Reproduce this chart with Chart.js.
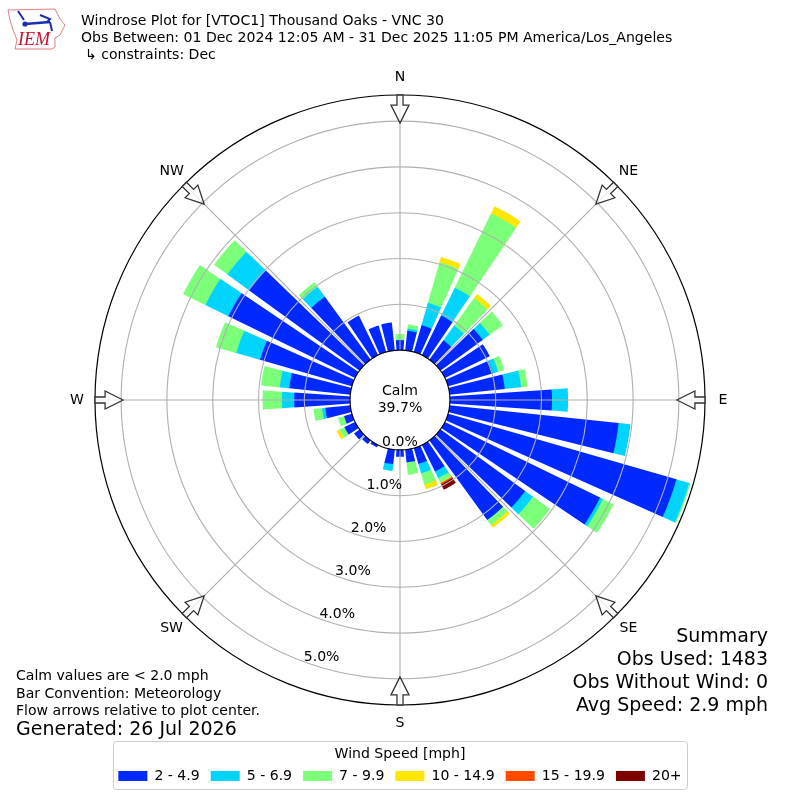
<!DOCTYPE html>
<html>
<head>
<meta charset="utf-8">
<title>Windrose</title>
<script src="https://cdn.jsdelivr.net/npm/chart.js@4/dist/chart.umd.min.js"></script>
<style>
  body { margin: 0; background: #fff; }
  #wrap { position: relative; width: 800px; height: 800px; }
  #logo { position: absolute; left: 0; top: 0; }
</style>
</head>
<body>
<div id="wrap">
  <canvas id="rose" width="800" height="800"></canvas>
  <svg id="logo" width="70" height="56" viewBox="0 0 70 56">
    <path d="M8 10 L55 9 L60 19 L65 25 L60 35 L55 38 L55 47 L52 49 L15 49 L17 40 L13 30 L10 20 Z" fill="#fff" stroke="#e08080" stroke-width="1"/>
    <path d="M25 24 L50 22" stroke="#1a2fb0" stroke-width="2.4"/>
    <path d="M18 11 L24 20 M40 15 L50 19 L47 22 M50 22 L52 31" stroke="#1a2fb0" stroke-width="2" fill="none"/>
    <circle cx="25" cy="24" r="2.6" fill="#1a2fb0"/>
    <text x="18" y="45" font-family="Liberation Serif" font-style="italic" font-size="18" fill="#c8102e">IEM</text>
  </svg>
</div>
<script>
const directions = [0,10,20,30,40,50,60,70,80,90,100,110,120,130,140,150,160,170,180,190,200,210,220,230,240,250,260,270,280,290,300,310,320,330,340,350];
// percent of obs per direction, one list for each speed bin
const speed2to5   = [.22,.43,.61,.96,.52,1.14,1.09,1.01,1.21,2.23,3.71,5.19,3.77,2.29,2.15,.65,.36,.28,.15,.32,0,.06,.10,.15,.26,.18,.55,1.22,1.34,2.09,3.08,2.98,1.70,.96,.60,.61];
const speed5to7   = [0,.05,.51,.68,.40,.19,0,.13,.36,.35,.26,.29,.07,.21,0,.16,.22,0,0,.15,0,0,0,0,0,0,.07,.27,.21,.54,.56,.59,.27,0,0,0];
const speed7to10  = [.13,.09,.92,1.81,.74,.36,0,.14,.14,0,0,.03,.26,.46,.14,.11,.25,.27,0,0,0,0,0,0,.12,.14,.19,.42,.41,.46,.54,.36,.12,0,0,0];
const speed10to15 = [0,0,.12,.17,.11,0,0,0,0,0,0,0,0,0,.07,.01,.11,0,0,0,0,0,0,0,.07,0,0,0,0,0,0,0,0,0,0,0];
const speed15to20 = [0,0,0,0,0,0,0,0,0,0,0,0,0,0,0,.03,0,0,0,0,0,0,0,0,0,0,0,0,0,0,0,0,0,0,0,0];
const speed20up   = [0,0,0,0,0,0,0,0,0,0,0,0,0,0,0,.13,0,0,0,0,0,0,0,0,0,0,0,0,0,0,0,0,0,0,0,0];

const binLabels = ['2 - 4.9','5 - 6.9','7 - 9.9','10 - 14.9','15 - 19.9','20+'];
const binColors = ['#0028ff','#00d4ff','#7cff79','#ffe600','#ff4a00','#7f0000'];
const radialTicks = [0,1,2,3,4,5];
const compass = ['N','NE','E','SE','S','SW','W','NW'];

const rMin = -1.09, rMax = 5.57;
const barAngle = 8, gapAngle = 2;
const FONT = '"DejaVu Sans"';
const SMALL = 14.07, BIG = 19;

// each bin is plotted as a running total, the plugin below cuts out its inner part
const bins = [speed2to5,speed5to7,speed7to10,speed10to15,speed15to20,speed20up];
let running = directions.map(() => 0);
const starts = [];
const datasets = bins.map((bin, b) => {
  starts.push(running);
  running = running.map((v, i) => v + bin[i]);
  return {
    label: binLabels[b],
    data: running.flatMap(v => [v, rMin]),   // every second slice is the gap
    backgroundColor: binColors[b],
    borderWidth: 0,
    angle: ctx => ctx.dataIndex % 2 ? gapAngle : barAngle
  };
});

function txt(ctx, s, x, y, size, align) {
  ctx.font = size + 'px ' + FONT;
  ctx.textAlign = align || 'left';
  ctx.textBaseline = 'middle';
  ctx.fillStyle = '#000';
  ctx.fillText(s, x, y);
}

const roseDecor = {
  id: 'roseDecor',
  afterDatasetsUpdate(chart) {
    // turn the slices into ring pieces so the edges don't fringe
    const s = chart.scales.r;
    chart.data.datasets.forEach((ds, b) => {
      chart.getDatasetMeta(b).data.forEach((arc, i) => {
        if (i % 2) return;
        const d = i / 2;
        if (bins[b][d] === 0) {
          arc.outerRadius = 0;
          arc.innerRadius = 0;
        } else {
          arc.innerRadius = Math.max(s.getDistanceFromCenterForValue(starts[b][d]) - 0.5, 0);
        }
      });
    });
  },
  beforeDraw(chart) {
    const ctx = chart.ctx;
    ctx.save();
    ctx.strokeStyle = '#cccccc';
    ctx.lineWidth = 1;
    ctx.fillStyle = '#fff';
    ctx.beginPath();
    ctx.roundRect(113.5, 741.5, 574, 48, 3);
    ctx.fill();
    ctx.stroke();
    ctx.restore();
  },
  afterDatasetsDraw(chart) {
    // spokes every 45 degrees
    const ctx = chart.ctx, s = chart.scales.r;
    const outer = s.getDistanceFromCenterForValue(rMax);
    ctx.save();
    ctx.strokeStyle = '#b0b0b0';
    ctx.lineWidth = 1.1;
    compass.forEach((c, i) => {
      const a = i * Math.PI / 4;
      ctx.beginPath();
      ctx.moveTo(s.xCenter, s.yCenter);
      ctx.lineTo(s.xCenter + outer * Math.sin(a), s.yCenter - outer * Math.cos(a));
      ctx.stroke();
    });
    ctx.restore();
  },
  afterDraw(chart) {
    const ctx = chart.ctx, s = chart.scales.r;
    const cx = s.xCenter, cy = s.yCenter;
    const hole = s.getDistanceFromCenterForValue(0);
    const outer = s.getDistanceFromCenterForValue(rMax);
    const tip = s.getDistanceFromCenterForValue(5) - 2;

    ctx.save();
    ctx.beginPath();
    ctx.arc(cx, cy, hole, 0, Math.PI * 2);
    ctx.fillStyle = '#fff';
    ctx.fill();
    ctx.strokeStyle = '#000';
    ctx.lineWidth = 1.1;
    ctx.stroke();
    ctx.restore();

    txt(ctx, 'Calm', cx, cy - 9, SMALL, 'center');
    txt(ctx, '39.7%', cx, cy + 8, SMALL, 'center');

    // radial labels run along the 200 degree line
    const la = 200 * Math.PI / 180;
    radialTicks.forEach(v => {
      const r = s.getDistanceFromCenterForValue(v);
      txt(ctx, v.toFixed(1) + '%', cx + r * Math.sin(la) + 17, cy - r * Math.cos(la) - 5, SMALL, 'center');
    });

    // compass arrows and names
    compass.forEach((c, i) => {
      const a = i * Math.PI / 4;
      ctx.save();
      ctx.translate(cx, cy);
      ctx.rotate(a);
      ctx.beginPath();
      ctx.moveTo(0, -tip);
      ctx.lineTo(9, -tip - 18);
      ctx.lineTo(3, -tip - 18);
      ctx.lineTo(3, -outer);
      ctx.lineTo(-3, -outer);
      ctx.lineTo(-3, -tip - 18);
      ctx.lineTo(-9, -tip - 18);
      ctx.closePath();
      ctx.fillStyle = 'rgba(255,255,255,0.75)';
      ctx.fill();
      ctx.strokeStyle = '#333';
      ctx.lineWidth = 1.3;
      ctx.stroke();
      ctx.restore();
      txt(ctx, c, cx + 323 * Math.sin(a), cy - 323 * Math.cos(a), SMALL, 'center');
    });

    // header
    txt(ctx, 'Windrose Plot for [VTOC1] Thousand Oaks - VNC 30', 81, 21, SMALL);
    txt(ctx, 'Obs Between: 01 Dec 2024 12:05 AM - 31 Dec 2025 11:05 PM America/Los_Angeles', 81, 38, SMALL);
    txt(ctx, '↳ constraints: Dec', 85, 55, SMALL);

    // notes, lower left
    txt(ctx, 'Calm values are < 2.0 mph', 16, 676, SMALL);
    txt(ctx, 'Bar Convention: Meteorology', 16, 694, SMALL);
    txt(ctx, 'Flow arrows relative to plot center.', 16, 711, SMALL);
    txt(ctx, 'Generated: 26 Jul 2026', 16, 730, BIG);

    // summary, lower right
    txt(ctx, 'Summary', 768, 637, BIG, 'right');
    txt(ctx, 'Obs Used: 1483', 768, 660, BIG, 'right');
    txt(ctx, 'Obs Without Wind: 0', 768, 683, BIG, 'right');
    txt(ctx, 'Avg Speed: 2.9 mph', 768, 706, BIG, 'right');
  }
};

new Chart(document.getElementById('rose'), {
  type: 'polarArea',
  data: {
    labels: directions.flatMap(d => [d + '', '']),
    datasets: datasets
  },
  plugins: [roseDecor],
  options: {
    responsive: false,
    animation: false,
    devicePixelRatio: 1,
    layout: { padding: { top: 95, bottom: 7 } },
    scales: {
      r: {
        min: rMin,
        max: rMax,
        startAngle: -barAngle / 2,
        ticks: { display: false, stepSize: 1 },
        pointLabels: { display: false },
        angleLines: { display: false },
        grid: {
          z: 1,
          circular: true,
          color: c => c.tick && c.tick.value === rMax ? '#000' : '#b0b0b0',
          lineWidth: c => c.tick && c.tick.value > 0 ? (c.tick.value === rMax ? 1.2 : 1.1) : 0
        }
      }
    },
    plugins: {
      tooltip: { enabled: false },
      legend: {
        position: 'bottom',
        onClick: null,
        title: {
          display: true,
          text: 'Wind Speed [mph]',
          color: '#000',
          font: { family: FONT, size: SMALL },
          padding: { top: 42, bottom: -6 }
        },
        labels: {
          color: '#000',
          font: { family: FONT, size: SMALL },
          boxWidth: 29,
          boxHeight: 10,
          padding: 11,
          generateLabels: () => binLabels.map((t, i) => ({
            text: t, fillStyle: binColors[i], strokeStyle: binColors[i], lineWidth: 0, index: i
          }))
        }
      }
    }
  }
});
</script>
</body>
</html>
